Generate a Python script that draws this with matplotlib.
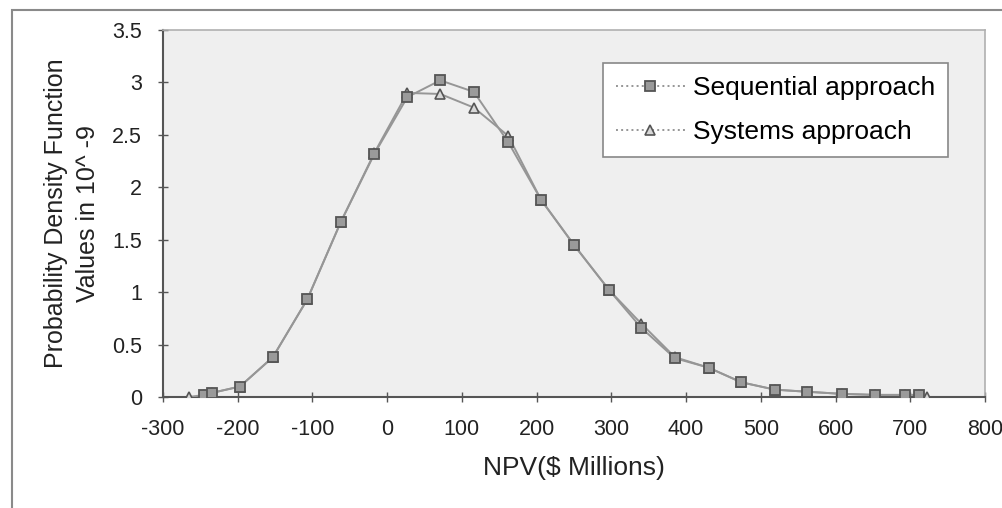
import matplotlib
matplotlib.use("Agg")
from matplotlib import pyplot as plt
from matplotlib.patches import Rectangle

plt.rcParams['font.family'] = ['Liberation Sans', 'DejaVu Sans']
plt.rcParams['axes.unicode_minus'] = False

# Sequential approach (squares)
seq_x = [-245, -234, -197, -153, -107, -62, -17, 27, 71, 116, 162, 206,
         250, 297, 340, 385, 430, 474, 519, 562, 608, 653, 693, 712]
seq_y = [0.02, 0.04, 0.10, 0.38, 0.93, 1.67, 2.32, 2.86, 3.02, 2.91, 2.43, 1.88,
         1.45, 1.02, 0.66, 0.37, 0.28, 0.14, 0.07, 0.05, 0.03, 0.02, 0.02, 0.02]

# Systems approach (triangles)
sys_x = [-265, -245, -234, -197, -153, -107, -62, -17, 27, 71, 116, 162, 206,
         250, 297, 340, 385, 430, 474, 519, 562, 608, 653, 693, 712, 722]
sys_y = [0.0, 0.02, 0.04, 0.10, 0.38, 0.93, 1.67, 2.33, 2.90, 2.89, 2.76, 2.49, 1.88,
         1.45, 1.02, 0.70, 0.38, 0.28, 0.14, 0.07, 0.05, 0.03, 0.02, 0.02, 0.02, 0.0]

xticks = list(range(-300, 801, 100))
yticks = [0, 0.5, 1, 1.5, 2, 2.5, 3, 3.5]
ytick_labels = ['0', '0.5', '1', '1.5', '2', '2.5', '3', '3.5']

fig = plt.figure(figsize=(10.03, 5.08), dpi=100)
ax = fig.add_axes([163 / 1003, 1 - 397 / 508, 822 / 1003, 367 / 508])

# outer chart frame
fig.patches.append(Rectangle((12 / 1003, -0.05), 1.1, 1 - 10 / 508 + 0.05,
                             transform=fig.transFigure, fill=False,
                             edgecolor='#8a8a8a', linewidth=1.5))

ax.set_facecolor('#efefef')

ax.plot(sys_x, sys_y, color='#969696', linewidth=1.4, marker='^', markersize=7,
        markerfacecolor='#d8d8d8', markeredgecolor='#555555', markeredgewidth=1.2,
        label='Systems approach', zorder=3)
ax.plot(seq_x, seq_y, color='#969696', linewidth=1.4, marker='s', markersize=7,
        markerfacecolor='#9a9a9a', markeredgecolor='#555555', markeredgewidth=1.3,
        label='Sequential approach', zorder=4)

ax.set_xlim(-300, 800)
ax.set_ylim(0, 3.5)
ax.set_xticks(xticks)
ax.set_yticks(yticks)
ax.set_yticklabels(ytick_labels)
ax.tick_params(direction='inout', length=7, width=1, color='#555555',
               labelsize=15.5, labelcolor='#222222')
ax.tick_params(axis='x', pad=12.5)
ax.tick_params(axis='y', pad=11.5)

for side in ['top', 'right']:
    ax.spines[side].set_color('#b0b0b0')
    ax.spines[side].set_linewidth(1.2)
for side in ['left', 'bottom']:
    ax.spines[side].set_color('#555555')
    ax.spines[side].set_linewidth(1.5)

ax.set_xlabel('NPV($ Millions)', fontsize=19, color='#222222', labelpad=11)
ax.set_ylabel('Probability Density Function\nValues in 10^ -9', fontsize=18,
              color='#222222', labelpad=9, linespacing=1.4)

handles, labels = ax.get_legend_handles_labels()
leg = ax.legend(handles[::-1], labels[::-1], loc='upper right',
                bbox_to_anchor=(0.955, 0.91), borderaxespad=0, fontsize=19,
                frameon=True, fancybox=False, edgecolor='#888888', framealpha=1,
                handlelength=2.6, handletextpad=0.3, borderpad=0.5,
                labelspacing=0.75)
leg.get_frame().set_linewidth(1.2)
for line in leg.get_lines():
    line.set_linestyle(':')

fig.savefig('out.png', dpi=100)
